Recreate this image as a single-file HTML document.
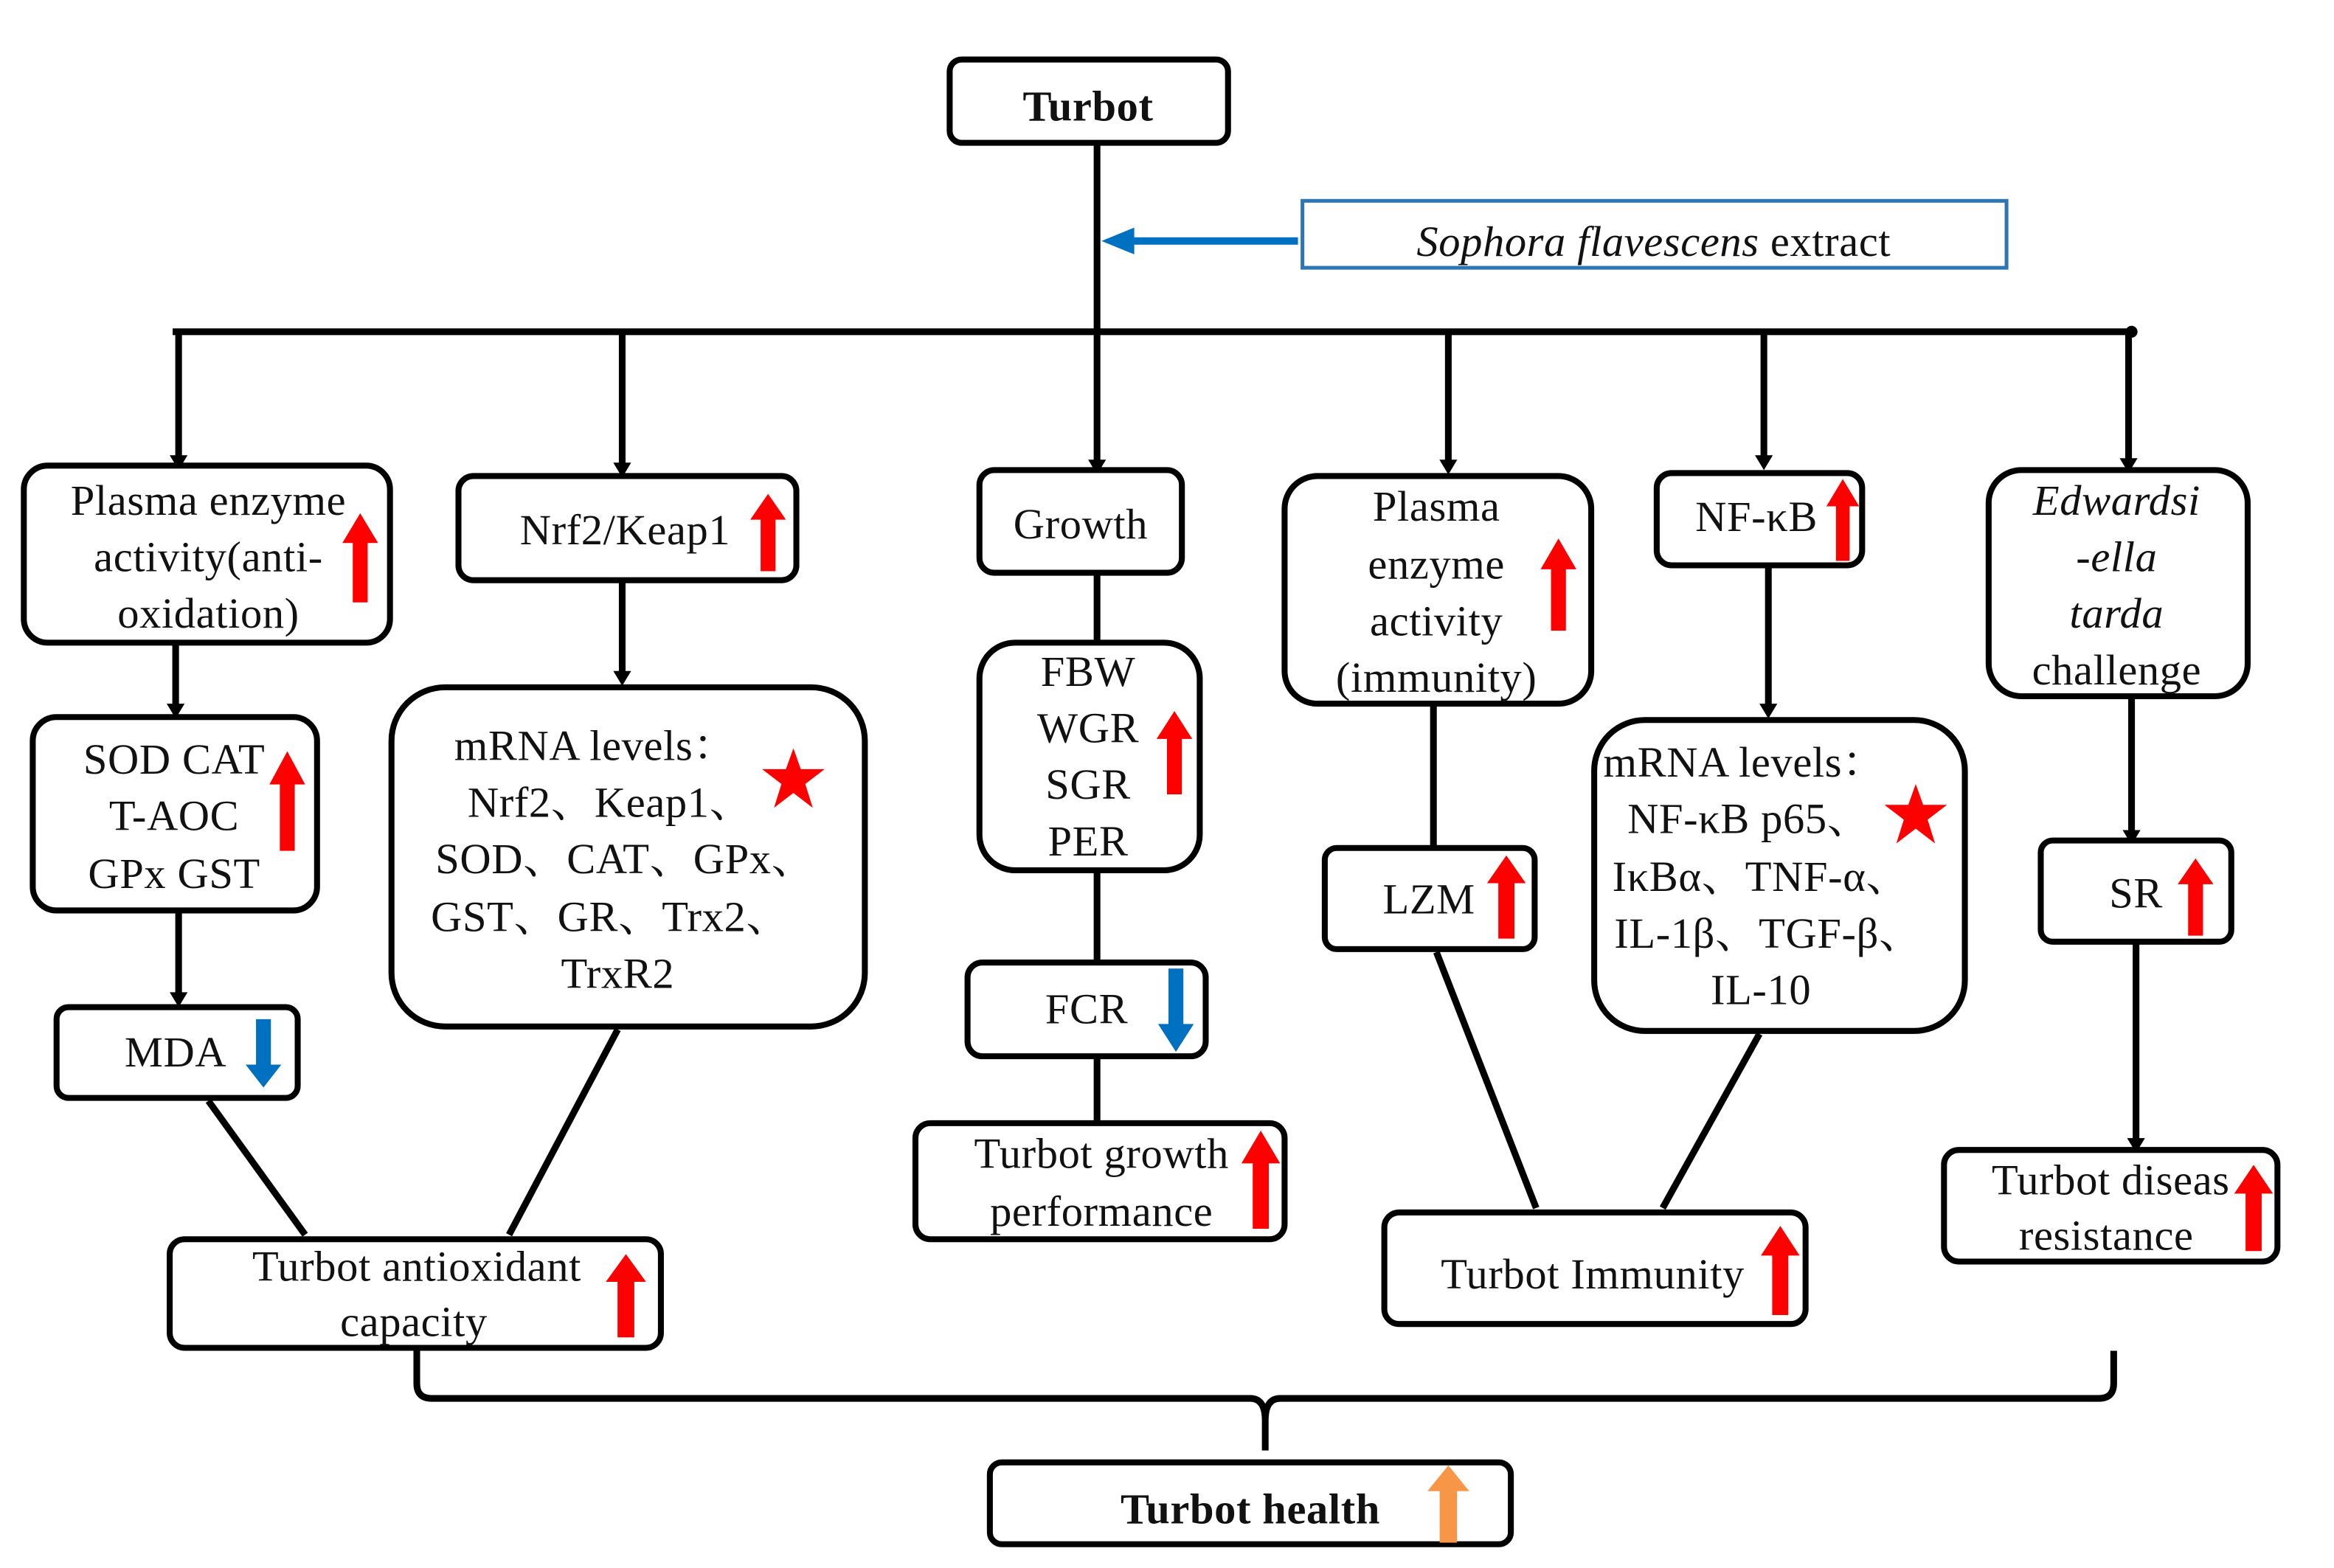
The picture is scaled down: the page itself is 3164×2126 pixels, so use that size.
<!DOCTYPE html>
<html><head><meta charset="utf-8"><style>
html,body{margin:0;padding:0;background:#fff;}
svg{display:block;}
text{font-family:"Liberation Serif","Noto Serif CJK SC",serif;font-size:29px;fill:#111;letter-spacing:0.3px;}
</style></head><body>
<svg width="3164" height="2126" viewBox="0 0 1568 1054" preserveAspectRatio="none" xmlns="http://www.w3.org/2000/svg">
<defs>
<symbol id="up" viewBox="0 0 24 60" preserveAspectRatio="none"><polygon points="12,0 24,20 17,20 17,60 7,60 7,20 0,20"/></symbol>
<symbol id="dn" viewBox="0 0 24 60" preserveAspectRatio="none"><polygon points="12,60 24,40 17,40 17,0 7,0 7,40 0,40"/></symbol>
</defs>
<g fill="none" stroke="#000" stroke-width="4.5">
<line x1="737" y1="96" x2="737" y2="314"/>
<line x1="116" y1="223" x2="1432" y2="223"/>
<line x1="120" y1="223" x2="120" y2="311"/>
<line x1="418" y1="223" x2="418" y2="316"/>
<line x1="973" y1="223" x2="973" y2="314"/>
<line x1="1185" y1="223" x2="1185" y2="311"/>
<line x1="1430" y1="223" x2="1430" y2="313"/>
<line x1="118" y1="432" x2="118" y2="478"/>
<line x1="120" y1="612" x2="120" y2="672"/>
<line x1="418" y1="390" x2="418" y2="456"/>
<line x1="737" y1="385" x2="737" y2="432"/>
<line x1="737" y1="585" x2="737" y2="647"/>
<line x1="737" y1="710" x2="737" y2="755"/>
<line x1="140" y1="740" x2="205" y2="830"/>
<line x1="415" y1="692" x2="342" y2="830"/>
<line x1="963" y1="473" x2="963" y2="570"/>
<line x1="1188" y1="380" x2="1188" y2="478"/>
<line x1="965" y1="640" x2="1032" y2="812"/>
<line x1="1182" y1="695" x2="1117" y2="812"/>
<line x1="1432" y1="468" x2="1432" y2="563"/>
<line x1="1435" y1="633" x2="1435" y2="770"/>
<path d="M280,908 V930 Q280,940 290,940 H840 Q850,940 850,955 V975 M850,955 Q850,940 860,940 H1410 Q1420,940 1420,930 V908"/>
</g>
<g fill="#000">
<polygon points="114,306 126,306 120,316"/>
<polygon points="412,311 424,311 418,321"/>
<polygon points="731,309 743,309 737,319"/>
<polygon points="967,309 979,309 973,319"/>
<polygon points="1179,306 1191,306 1185,316"/>
<polygon points="1424,308 1436,308 1430,318"/>
<polygon points="112,473 124,473 118,483"/>
<polygon points="114,667 126,667 120,677"/>
<polygon points="412,451 424,451 418,461"/>
<polygon points="1182,473 1194,473 1188,483"/>
<polygon points="1426,558 1438,558 1432,568"/>
<polygon points="1429,765 1441,765 1435,775"/>
<circle cx="1432" cy="223" r="4"/>
</g>
<line x1="872" y1="162" x2="758" y2="162" stroke="#0070c0" stroke-width="5"/>
<polygon points="740,162 762,153 762,171" fill="#0070c0"/>
<rect x="875" y="135" width="473" height="45" fill="#fff" stroke="#2e75b6" stroke-width="2.5"/>
<text x="1111" y="172" text-anchor="middle" font-size="30"><tspan font-style="italic">Sophora flavescens</tspan> extract</text>
<g fill="#fff" stroke="#000" stroke-width="4">
<rect x="638" y="40" width="187" height="56" rx="8"/>
<rect x="16" y="313" width="246" height="119" rx="16"/>
<rect x="308" y="320" width="227" height="70" rx="10"/>
<rect x="658" y="316" width="136" height="69" rx="10"/>
<rect x="863" y="320" width="206" height="153" rx="22"/>
<rect x="1113" y="318" width="138" height="62" rx="10"/>
<rect x="1336" y="316" width="174" height="152" rx="22"/>
<rect x="22" y="482" width="191" height="130" rx="16"/>
<rect x="38" y="677" width="162" height="61" rx="8"/>
<rect x="263" y="462" width="318" height="228" rx="36"/>
<rect x="658" y="432" width="148" height="153" rx="24"/>
<rect x="650" y="647" width="160" height="63" rx="10"/>
<rect x="615" y="755" width="248" height="78" rx="10"/>
<rect x="114" y="833" width="330" height="73" rx="10"/>
<rect x="890" y="570" width="141" height="68" rx="8"/>
<rect x="1071" y="484" width="249" height="209" rx="34"/>
<rect x="930" y="815" width="283" height="75" rx="10"/>
<rect x="1371" y="565" width="128" height="68" rx="8"/>
<rect x="1306" y="773" width="224" height="75" rx="10"/>
<rect x="665" y="983" width="350" height="55" rx="8"/>
</g>
<g text-anchor="middle">
<text x="731" y="81" font-weight="bold" font-size="32">Turbot</text>
<text x="140" y="346">Plasma enzyme</text><text x="140" y="384">activity(anti-</text><text x="140" y="422">oxidation)</text>
<text x="420" y="366">Nrf2/Keap1</text>
<text x="726" y="362">Growth</text>
<text x="965" y="350">Plasma</text><text x="965" y="389">enzyme</text><text x="965" y="427">activity</text><text x="965" y="465">(immunity)</text>
<text x="1180" y="357">NF-κB</text>
<text x="1422" y="346" font-style="italic">Edwardsi</text><text x="1422" y="384" font-style="italic">-ella</text><text x="1422" y="422" font-style="italic">tarda</text><text x="1422" y="460">challenge</text>
<text x="117" y="520">SOD CAT</text><text x="117" y="558">T-AOC</text><text x="117" y="597">GPx GST</text>
<text x="118" y="717">MDA</text>
<text x="400" y="511">mRNA levels：</text><text x="410" y="549">Nrf2、Keap1、</text><text x="420" y="587">SOD、CAT、GPx、</text><text x="410" y="626">GST、GR、Trx2、</text><text x="415" y="664">TrxR2</text>
<text x="731" y="461">FBW</text><text x="731" y="499">WGR</text><text x="731" y="537">SGR</text><text x="731" y="575">PER</text>
<text x="730" y="688">FCR</text>
<text x="740" y="785">Turbot growth</text><text x="740" y="824">performance</text>
<text x="280" y="861">Turbot antioxidant</text><text x="278" y="898">capacity</text>
<text x="960" y="614">LZM</text>
<text x="1172" y="522">mRNA levels：</text><text x="1175" y="560">NF-κB p65、</text><text x="1183" y="599">IκBα、TNF-α、</text><text x="1188" y="637">IL-1β、TGF-β、</text><text x="1183" y="675">IL-10</text>
<text x="1070" y="866">Turbot Immunity</text>
<text x="1435" y="610">SR</text>
<text x="1418" y="803">Turbot diseas</text><text x="1415" y="840">resistance</text>
<text x="840" y="1024" font-weight="bold" font-size="32">Turbot health</text>
</g>
<g fill="#ff0000">
<use href="#up" x="230" y="345" width="24" height="60"/>
<use href="#up" x="504" y="332" width="24" height="52"/>
<use href="#up" x="1035" y="362" width="24" height="62"/>
<use href="#up" x="1227" y="322" width="22" height="55"/>
<use href="#up" x="181" y="505" width="24" height="67"/>
<use href="#up" x="777" y="478" width="24" height="56"/>
<use href="#up" x="834" y="760" width="26" height="66"/>
<use href="#up" x="407" y="843" width="27" height="56"/>
<use href="#up" x="999" y="575" width="26" height="56"/>
<use href="#up" x="1183" y="824" width="26" height="60"/>
<use href="#up" x="1463" y="577" width="24" height="52"/>
<use href="#up" x="1501" y="783" width="26" height="58"/>
<polygon points="533,503 538,517 554,517 541,527 546,543 533,533 520,543 525,527 512,517 528,517"/>
<polygon points="1287,527 1292,541 1308,541 1295,551 1300,567 1287,557 1274,567 1279,551 1266,541 1282,541"/>
</g>
<g fill="#0070c0">
<use href="#dn" x="165" y="685" width="24" height="46"/>
<use href="#dn" x="778" y="651" width="24" height="56"/>
</g>
<use href="#up" x="959" y="985" width="28" height="52" fill="#f79646"/>
</svg>
</body></html>
